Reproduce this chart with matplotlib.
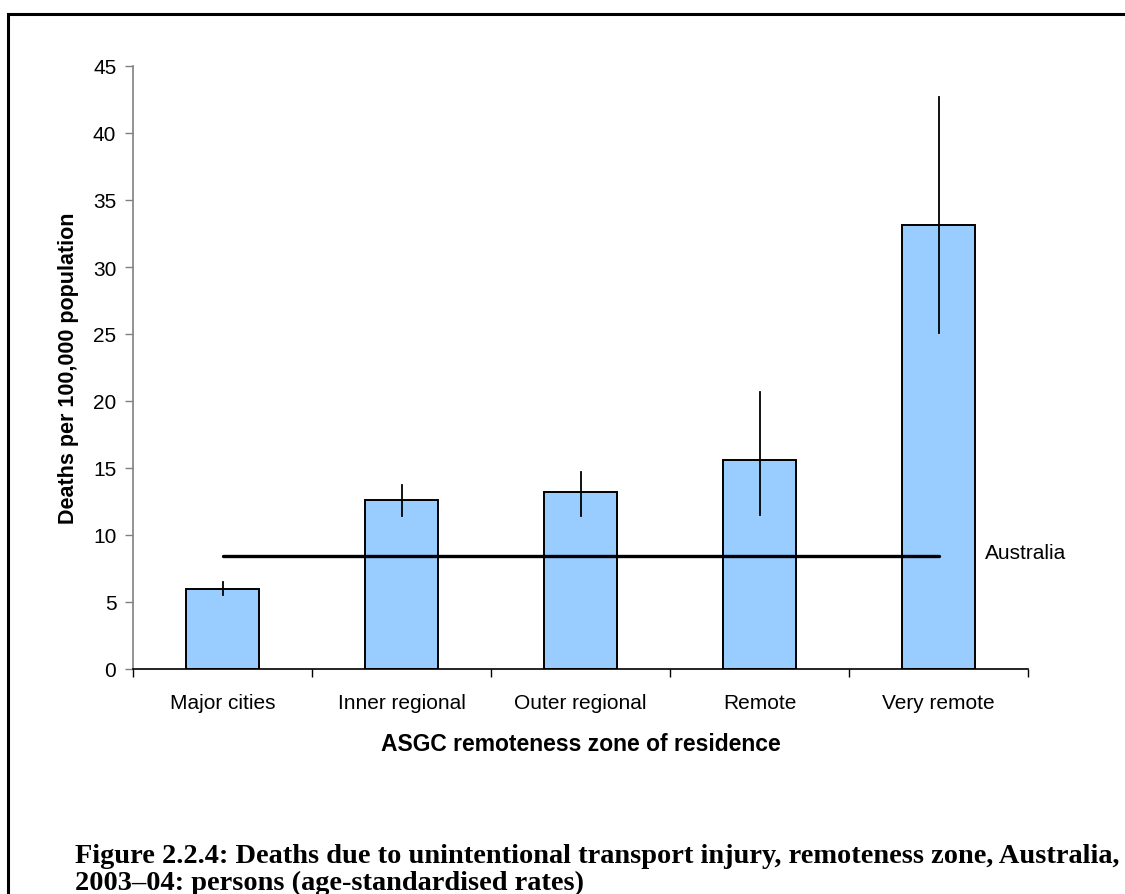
import matplotlib
matplotlib.use("Agg")
import matplotlib.pyplot as plt
from matplotlib.patches import Rectangle

categories = ["Major cities", "Inner regional", "Outer regional", "Remote", "Very remote"]
rates = [6.0, 12.6, 13.2, 15.6, 33.1]
ci_low = [5.5, 11.4, 11.4, 11.5, 25.1]
ci_high = [6.5, 13.7, 14.7, 20.7, 42.7]
australia_rate = 8.4
yticks = [0, 5, 10, 15, 20, 25, 30, 35, 40, 45]

W, H = 1125, 895
fig = plt.figure(figsize=(W / 100, H / 100), dpi=100)
fig.patch.set_facecolor("white")

# figure border (top & left visible, clipped at right/bottom)
fig.patches.append(Rectangle((8 / W, -0.05), 1.2, 1 - 15 / H + 0.05, transform=fig.transFigure,
                             fill=False, edgecolor="black", linewidth=2.2, zorder=0))

ax = fig.add_axes([133 / W, 1 - 670 / H, (1028 - 133) / W, (670 - 67) / H])
x = list(range(len(categories)))
ax.bar(x, rates, width=0.41, color="#99CCFF", edgecolor="black", linewidth=1.4, zorder=2)
for xi, lo, hi in zip(x, ci_low, ci_high):
    ax.plot([xi, xi], [lo, hi], color="black", linewidth=1.3, zorder=3)
ax.plot([x[0], x[-1]], [australia_rate, australia_rate], color="black", linewidth=2.4,
        solid_capstyle="round", zorder=4)
ax.text(x[-1] + 0.26, australia_rate + 0.3, "Australia", ha="left", va="center",
        fontsize=15, family="Liberation Sans")

ax.set_xlim(-0.5, len(categories) - 0.5)
ax.set_ylim(0, 45)
ax.set_yticks(yticks)
ax.set_yticklabels([str(v) for v in yticks], fontsize=15, family="Liberation Sans")
ax.set_xticks([i + 0.5 for i in range(-1, len(categories))], minor=False)
ax.set_xticklabels([])
ax.set_xticks(x, minor=True)
ax.set_xticklabels(categories, minor=True, fontsize=15, family="Liberation Sans")
ax.tick_params(axis="x", which="minor", length=0, pad=17)
ax.tick_params(axis="x", which="major", length=6, direction="out", width=1, color="black")
ax.tick_params(axis="y", length=6, direction="out", width=1, color="#808080", pad=6)

for s in ["top", "right"]:
    ax.spines[s].set_visible(False)
ax.spines["left"].set_color("#808080")
ax.spines["left"].set_linewidth(1.2)
ax.spines["bottom"].set_color("black")
ax.spines["bottom"].set_linewidth(1.2)

ax.set_ylabel("Deaths per 100,000 population", fontsize=15.5, fontweight="bold",
              family="Liberation Sans", labelpad=10)
ax.set_xlabel("ASGC remoteness zone of residence", fontsize=16.5, fontweight="bold",
              family="Liberation Sans", labelpad=15)

fig.text(75 / W, 1 - 863 / H,
         "Figure 2.2.4: Deaths due to unintentional transport injury, remoteness zone, Australia,",
         ha="left", va="baseline", fontsize=20.4, fontweight="bold", family="Liberation Serif")
fig.text(75 / W, 1 - 890 / H,
         "2003\u201304: persons (age-standardised rates)",
         ha="left", va="baseline", fontsize=20.4, fontweight="bold", family="Liberation Serif")

fig.savefig("out.png", dpi=100, facecolor="white")
